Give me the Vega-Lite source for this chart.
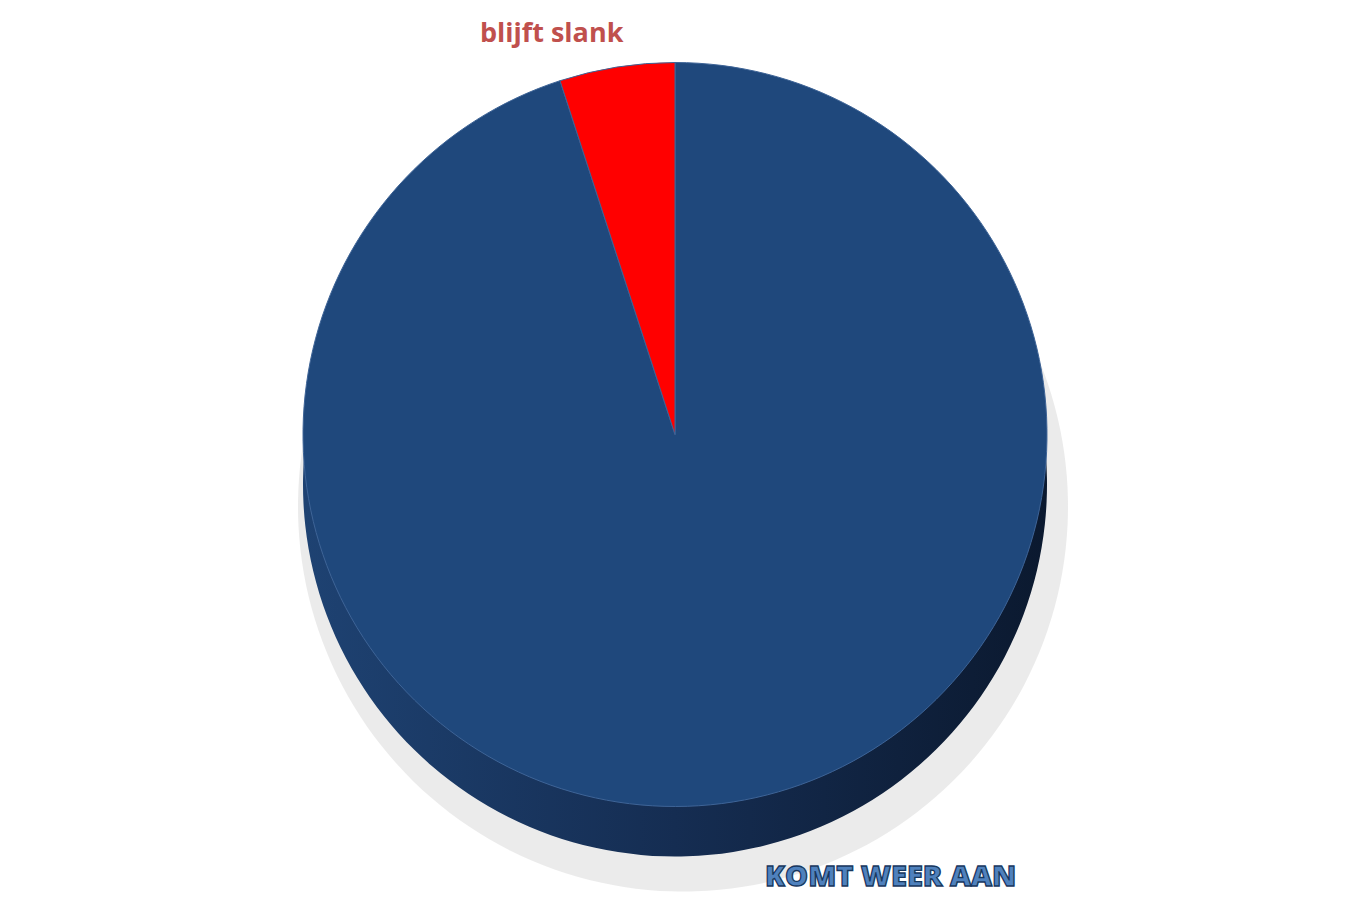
{
  "$schema": "https://vega.github.io/schema/vega-lite/v6.json",
  "width": 1350,
  "height": 897,
  "autosize": {"type": "fit", "contains": "padding"},
  "padding": 0,
  "background": "white",
  "config": {"view": {"stroke": null}},
  "data": {"values": [
    {"categorie": "KOMT WEER AAN", "aandeel": 95},
    {"categorie": "blijft slank", "aandeel": 5}
  ]},
  "transform": [
    {"stack": "aandeel", "groupby": [], "sort": [{"field": "categorie", "order": "ascending"}], "as": ["t0", "t1"]},
    {"calculate": "(datum.t0 + datum.t1) / 2", "as": "tmid"}
  ],
  "layer": [
    {
      "mark": {"type": "arc", "radius": 385, "yOffset": 58, "xOffset": 8, "color": "#e6e6e6", "opacity": 0.8},
      "encoding": {
        "theta": {"field": "t0", "type": "quantitative", "scale": {"domain": [0, 100]}},
        "theta2": {"field": "t1"}
      }
    },
    {
      "mark": {"type": "arc", "radius": 372, "yOffset": 36,
        "color": {"gradient": "linear", "x1": 0, "x2": 1, "y1": 0, "y2": 0,
          "stops": [{"offset": 0, "color": "#1E4272"}, {"offset": 0.5, "color": "#152D52"}, {"offset": 1, "color": "#0B192F"}]}},
      "encoding": {
        "theta": {"field": "t0", "type": "quantitative", "scale": {"domain": [0, 100]}},
        "theta2": {"field": "t1"}
      }
    },
    {
      "mark": {"type": "arc", "radius": 372, "yOffset": -14, "stroke": "#3E6497", "strokeWidth": 1},
      "encoding": {
        "theta": {"field": "t0", "type": "quantitative", "scale": {"domain": [0, 100]}},
        "theta2": {"field": "t1"},
        "color": {"field": "categorie", "type": "nominal",
          "scale": {"domain": ["KOMT WEER AAN", "blijft slank"], "range": ["#1F487C", "#FF0000"]},
          "legend": null}
      }
    },
    {
      "transform": [{"filter": "datum.categorie === 'blijft slank'"}],
      "mark": {"type": "text", "radius": 405, "yOffset": -14, "dx": -60, "font": "Open Sans", "fontWeight": "bold", "fontSize": 27, "color": "#C0504D"},
      "encoding": {
        "theta": {"field": "tmid", "type": "quantitative", "scale": {"domain": [0, 100]}},
        "text": {"field": "categorie", "type": "nominal"}
      }
    },
    {
      "transform": [{"filter": "datum.categorie === 'KOMT WEER AAN'"}],
      "mark": {"type": "text", "radius": 420, "dx": 150, "dy": 14, "font": "Open Sans", "fontWeight": 800, "fontSize": 29, "color": "#4F81BD", "stroke": "#17375E", "strokeWidth": 1.3},
      "encoding": {
        "theta": {"field": "tmid", "type": "quantitative", "scale": {"domain": [0, 100]}},
        "text": {"field": "categorie", "type": "nominal"}
      }
    }
  ]
}
